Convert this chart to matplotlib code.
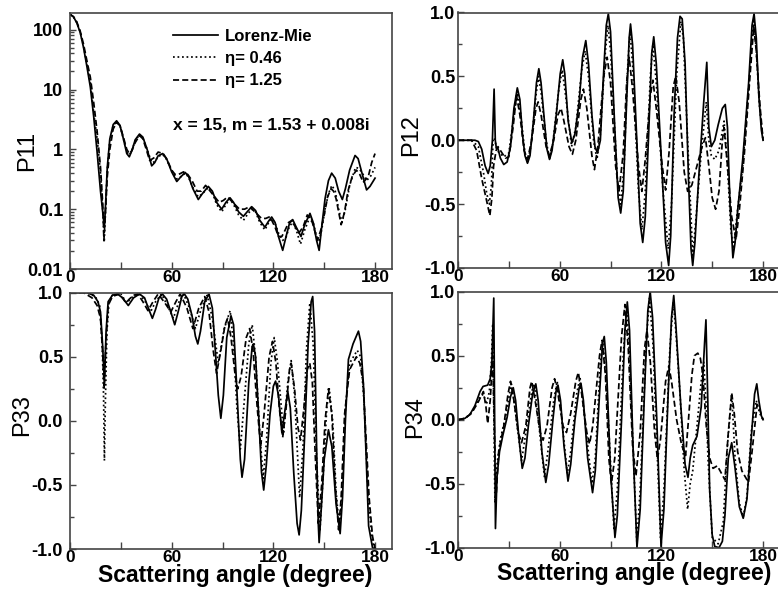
import matplotlib.pyplot as plt
from matplotlib.ticker import FixedLocator, MultipleLocator, FuncFormatter, LogLocator, NullFormatter

plt.rcParams['font.family'] = ['Liberation Sans', 'DejaVu Sans']
plt.rcParams['font.weight'] = 'bold'
plt.rcParams['axes.labelweight'] = 'bold'
plt.rcParams['axes.unicode_minus'] = False

# ---------------- P11 (log scale) ----------------
p11_lm_x = [0, 2, 4, 6, 8, 10, 12, 14, 16, 18, 19.5, 20.3, 21, 22, 23.5, 25.5, 27.5, 29.5,
            31.5, 33.5, 35, 36.5, 38.5, 41, 43, 45.5, 48.2, 50, 52, 54.7, 57, 60, 63, 65.5,
            68, 70, 72.5, 75.7, 78, 81.6, 84, 86.5, 89.5, 92, 94.4, 96.5, 99.5, 102.3, 104.5,
            107.2, 109.5, 112, 115, 117, 119, 121, 123, 125.5, 127.5, 129.5, 131.4, 133.5,
            136.3, 138.5, 141.6, 143.5, 145.5, 147, 148.5, 150.5, 152.5, 154.4, 156.5, 158.5,
            160.7, 162.5, 165, 168.2, 170, 172.5, 175, 177, 180]
p11_lm_y = [180, 165, 130, 90, 50, 24, 11, 3.5, 0.9, 0.2, 0.08, 0.05, 0.12, 0.5, 1.5, 2.6,
            3.0, 2.5, 1.5, 0.85, 0.75, 0.95, 1.45, 1.8, 1.6, 1.0, 0.53, 0.6, 0.78, 0.85, 0.7,
            0.42, 0.29, 0.35, 0.41, 0.35, 0.22, 0.145, 0.18, 0.24, 0.2, 0.13, 0.10, 0.13,
            0.155, 0.13, 0.09, 0.076, 0.09, 0.11, 0.095, 0.065, 0.05, 0.062, 0.074, 0.06,
            0.035, 0.0205, 0.035, 0.058, 0.067, 0.05, 0.035, 0.055, 0.085, 0.06, 0.03, 0.0205,
            0.05, 0.15, 0.3, 0.40, 0.33, 0.2, 0.145, 0.22, 0.45, 0.79, 0.7, 0.38, 0.21, 0.24,
            0.33]

p11_e046_x = [0, 2, 4, 6, 8, 10, 12, 14, 16, 18, 19.5, 20.2, 21, 22, 23.5, 25.5, 27.5, 29.5,
              31.5, 33.5, 35, 36.5, 38.5, 41, 43, 45.5, 48.2, 50, 52, 54.7, 57, 60, 63, 65.5,
              68, 70, 72.5, 75.7, 78, 81.6, 84, 86.5, 89.5, 92, 94.4, 96.5, 99.5, 102.3,
              104.5, 107.2, 109.5, 112, 115, 117, 119, 121, 123, 125.5, 127.5, 129.5, 131.4,
              133.5, 136, 138.5, 141.6, 143.5, 145.5, 147, 148.5, 150.5, 152.5, 154.5, 156.5,
              158.5, 160.5, 162.5, 165, 168.5, 170.5, 172.5, 175, 177.5, 180]
p11_e046_y = [180, 165, 132, 92, 53, 26, 13, 4, 1.5, 0.4, 0.08, 0.028, 0.1, 0.45, 1.4, 2.5,
              2.9, 2.5, 1.5, 0.9, 0.8, 0.95, 1.4, 1.75, 1.55, 1.0, 0.6, 0.62, 0.76, 0.82,
              0.68, 0.44, 0.32, 0.35, 0.4, 0.34, 0.23, 0.16, 0.18, 0.23, 0.19, 0.12, 0.09,
              0.12, 0.15, 0.12, 0.08, 0.065, 0.08, 0.1, 0.09, 0.06, 0.045, 0.058, 0.07, 0.058,
              0.04, 0.03, 0.034, 0.052, 0.06, 0.045, 0.026, 0.045, 0.075, 0.06, 0.035, 0.03,
              0.045, 0.1, 0.18, 0.25, 0.2, 0.1, 0.06, 0.1, 0.25, 0.5, 0.48, 0.4, 0.3, 0.36,
              0.5]

p11_e125_x = [0, 2, 4, 6, 8, 10, 12, 14, 16, 18, 19.5, 20, 21, 22, 23.5, 25.5, 27.5, 29.5,
              31.5, 33.5, 35, 36.5, 38.5, 41, 43, 45, 47, 49.5, 52, 55, 57.5, 60, 62, 64, 67,
              69.5, 72, 75, 77.5, 80, 84, 88, 90.5, 93, 96, 100, 103, 106, 110, 113, 115.5,
              118, 121, 123, 125, 127, 129, 131, 133, 135, 137.5, 140, 143, 146, 148, 150, 152,
              154, 155.5, 157, 160, 162, 164, 166.5, 169, 171, 173, 176, 178, 180]
p11_e125_y = [180, 165, 135, 95, 57, 30, 16, 6, 2, 0.5, 0.1, 0.03, 0.1, 0.35, 1.0, 2.2, 2.8,
              2.5, 1.6, 1.0, 0.85, 0.95, 1.3, 1.7, 1.5, 1.0, 0.65, 0.72, 0.9, 0.85, 0.65,
              0.45, 0.38, 0.38, 0.42, 0.38, 0.3, 0.2, 0.2, 0.25, 0.18, 0.13, 0.14, 0.16, 0.13,
              0.1, 0.1, 0.11, 0.085, 0.07, 0.07, 0.075, 0.05, 0.035, 0.035, 0.045, 0.06,
              0.065, 0.05, 0.04, 0.05, 0.08, 0.06, 0.03, 0.045, 0.08, 0.16, 0.22, 0.2, 0.15,
              0.055, 0.09, 0.2, 0.35, 0.45, 0.38, 0.28, 0.35, 0.6, 0.85]

# ---------------- P12 ----------------
p12_lm_x = [0, 10, 12, 14, 16, 17.8, 19, 20.3, 21.3, 22, 22.6, 23.5, 25, 27, 29, 31, 33, 35,
            36.5, 38, 39.5, 41, 42.5, 44.5, 46.3, 47.7, 49, 51, 52.5, 54, 55.5, 58, 60.3,
            61.8, 63, 65, 67.2, 69, 71.5, 73.5, 75.4, 77, 79, 80.8, 82.3, 84, 86, 87.5, 88.7,
            90, 92.5, 94.5, 96, 97.5, 99.5, 101, 101.8, 103, 105.5, 107.5, 109, 110.5, 112.5,
            114.3, 115.5, 117, 120, 122.5, 124.3, 125.5, 127.5, 129.5, 131, 132.3, 134, 136,
            137.5, 138.5, 139.8, 142, 145, 146.8, 148, 149.5, 151.5, 153.5, 156, 157.7, 159,
            160.5, 162.2, 163.5, 165, 168, 171.5, 173.5, 174.7, 176, 177.5, 179, 180]
p12_lm_y = [0, 0, -0.01, -0.07, -0.2, -0.26, -0.2, 0.0, 0.40, 0.0, -0.06, -0.06, -0.14,
            -0.19, -0.17, -0.05, 0.25, 0.41, 0.32, 0.05, -0.12, -0.18, -0.12, 0.15, 0.45,
            0.56, 0.45, 0.15, -0.07, -0.15, -0.08, 0.2, 0.52, 0.63, 0.52, 0.15, -0.02, 0.05,
            0.3, 0.65, 0.78, 0.6, 0.2, -0.05, -0.10, 0.0, 0.55, 0.9, 0.99, 0.85, 0.1, -0.45,
            -0.57, -0.4, 0.3, 0.8, 0.91, 0.75, 0.0, -0.65, -0.80, -0.6, 0.05, 0.68, 0.81,
            0.6, -0.15, -0.8, -0.98, -0.75, 0.2, 0.8, 0.97, 0.95, 0.6, -0.3, -0.85, -0.98,
            -0.8, -0.3, 0.3, 0.61, 0.1, -0.05, 0.0, 0.12, 0.25, 0.28, 0.1, -0.5, -0.92, -0.8,
            -0.55, -0.15, 0.45, 0.9, 0.99, 0.8, 0.35, 0.08, 0.0]

p12_e046_x = [0, 8, 12, 15, 17, 18.5, 19.7, 20.7, 21.5, 23, 27, 30, 33, 35, 37, 39.5, 41, 43,
              46, 47.5, 49, 52, 54, 56, 59.5, 61.5, 63.5, 67, 69.5, 73, 75, 77, 80, 82, 84,
              87, 88.5, 90, 94, 96, 98, 100, 101.5, 103, 106.5, 108.5, 110.5, 113.5, 115, 117,
              121, 124, 126, 129, 131.5, 133, 135.5, 138.5, 140.5, 143.5, 146.5, 148, 149.5,
              151.5, 154, 157, 159, 161, 162.5, 164.5, 168, 172, 174.5, 176, 178, 180]
p12_e046_y = [0, 0, -0.05, -0.25, -0.42, -0.5, -0.35, 0.0, 0.02, -0.08, -0.13, -0.1, 0.2,
              0.37, 0.2, -0.1, -0.17, -0.05, 0.35, 0.5, 0.38, 0.0, -0.15, -0.02, 0.4, 0.55,
              0.35, -0.05, 0.1, 0.55, 0.7, 0.5, 0.0, -0.15, 0.05, 0.7, 0.9, 0.7, -0.3, -0.5,
              -0.2, 0.55, 0.85, 0.6, -0.4, -0.7, -0.4, 0.5, 0.75, 0.45, -0.4, -0.85, -0.5, 0.5,
              0.93, 0.8, 0.0, -0.9, -0.6, -0.1, 0.3, 0.0, -0.12, -0.15, -0.08, 0.15, -0.2,
              -0.7, -0.85, -0.6, -0.2, 0.5, 0.95, 0.7, 0.25, 0.0]

p12_e125_x = [0, 8, 11, 14, 16.5, 18.8, 20, 21, 22.5, 23.6, 26, 28, 30, 32.5, 34.5, 36.5, 39,
              41, 43.5, 46, 47.3, 49, 52, 54, 56.5, 59, 60.8, 62.5, 65.5, 67.5, 69.5, 72.5,
              74, 76, 79, 80.5, 82.5, 86, 88, 90, 93, 95, 97.5, 99.5, 101, 103, 106.5, 108.5,
              110.5, 113.5, 115, 117, 120.5, 122.5, 124.5, 127, 128.5, 130.5, 133.5, 135.5,
              138, 141, 144, 146, 148, 150, 152, 154, 156, 157, 159, 161.5, 164, 166, 169, 172,
              174.5, 176, 178, 180]
p12_e125_y = [0, 0, -0.08, -0.3, -0.45, -0.59, -0.45, -0.2, -0.08, -0.05, -0.1, -0.14, -0.13,
              0.1, 0.35, 0.2, -0.08, -0.15, 0.0, 0.25, 0.3, 0.2, -0.05, -0.12, 0.0, 0.2, 0.25,
              0.15, -0.05, -0.11, 0.0, 0.32, 0.4, 0.25, -0.12, -0.23, -0.05, 0.5, 0.65, 0.45,
              -0.2, -0.4, -0.1, 0.45, 0.65, 0.4, -0.2, -0.4, -0.15, 0.35, 0.47, 0.25, -0.2,
              -0.39, -0.1, 0.42, 0.5, 0.3, -0.25, -0.4, -0.35, -0.2, -0.05, 0.02, -0.2, -0.45,
              -0.54, -0.4, 0.0, 0.1, -0.2, -0.6, -0.78, -0.55, -0.1, 0.45, 0.89, 0.7, 0.3, 0.0]

# ---------------- P33 ----------------
p33_lm_x = [0, 10, 14, 16.5, 18, 19.2, 20.3, 21.3, 22.5, 25, 28, 31, 34.4, 37.5, 41, 44, 46.5,
            48.6, 50.5, 52.5, 54.5, 57, 59.5, 61.8, 63.8, 66, 67.5, 69.5, 72, 74, 75.4, 77,
            79.5, 82, 84, 86, 87.5, 89, 90.5, 92.5, 95, 96.5, 99, 100.5, 101.5, 103, 105.5,
            107.5, 108.2, 109.5, 111.5, 113, 114.3, 115.8, 118, 120, 121.3, 123, 125, 126.5,
            128.5, 130, 132, 134, 135.2, 136.5, 138.5, 140.5, 142.3, 143.2, 144.3, 145.5,
            146.5, 147, 148.2, 150, 152.5, 154.5, 157, 159.4, 160.8, 162.5, 164.3, 167, 170.2,
            171.5, 173.2, 174.8, 176.2, 178.5, 180]
p33_lm_y = [1.0, 1.0, 0.98, 0.93, 0.85, 0.6, 0.3, 0.7, 0.93, 0.98, 0.99, 0.96, 0.90, 0.96,
            0.99, 0.96, 0.87, 0.80, 0.87, 0.96, 0.99, 0.95, 0.85, 0.75, 0.85, 0.97, 0.99,
            0.95, 0.82, 0.66, 0.60, 0.7, 0.93, 0.99, 0.88, 0.5, 0.2, 0.02, 0.2, 0.65, 0.82,
            0.75, 0.1, -0.3, -0.44, -0.3, 0.3, 0.58, 0.6, 0.5, 0.0, -0.4, -0.54, -0.35, 0.05,
            0.27, 0.31, 0.2, -0.09, 0.05, 0.23, 0.1, -0.4, -0.8, -0.89, -0.7, -0.1, 0.6, 0.93,
            0.97, 0.7, -0.2, -0.8, -0.95, -0.7, -0.3, -0.07, -0.2, -0.65, -0.88, -0.6, 0.0,
            0.48, 0.6, 0.70, 0.62, 0.27, -0.3, -0.82, -0.99, -1.0]

p33_e046_x = [0, 10, 15, 17.5, 19, 19.8, 20.3, 20.8, 21.8, 23, 25, 30, 33.5, 37, 41, 44.5,
              47.5, 50.5, 54, 57.5, 61, 64, 67, 70.5, 74, 77.5, 81, 84, 87.5, 91, 94.5, 96.5,
              98.5, 100.5, 102.5, 105.5, 107.5, 109.5, 112, 114, 116, 118.5, 120.5, 122.5,
              126, 128.5, 130.5, 132.5, 135.5, 137.5, 139.5, 141.5, 143.5, 145.5, 147.5, 149.5,
              151.5, 153, 155, 157, 159, 160.5, 162.5, 165, 169.5, 171.5, 173.5, 176, 178.5,
              180]
p33_e046_y = [1.0, 1.0, 0.97, 0.9, 0.6, 0.2, -0.31, 0.1, 0.7, 0.92, 0.98, 0.99, 0.92, 0.97,
              0.99, 0.93, 0.85, 0.93, 0.99, 0.9, 0.8, 0.92, 0.99, 0.88, 0.72, 0.88, 0.98, 0.8,
              0.45, 0.72, 0.86, 0.6, 0.1, -0.22, 0.1, 0.6, 0.75, 0.5, -0.1, -0.45, -0.15, 0.45,
              0.65, 0.45, -0.1, 0.3, 0.47, 0.2, -0.6, -0.2, 0.55, 0.92, 0.6, -0.3, -0.85, -0.4,
              0.1, 0.25, 0.0, -0.55, -0.85, -0.55, 0.1, 0.45, 0.55, 0.5, 0.15, -0.6, -0.95,
              -1.0]

p33_e125_x = [0, 8, 13, 16, 18, 19.2, 20.2, 21, 22.5, 25, 29, 31.5, 33, 35, 37.5, 40, 43, 46,
              49, 52, 56, 59.5, 62.5, 65, 69, 72.5, 76, 79.5, 82, 84.5, 86.5, 89, 91.5, 93, 95,
              97.5, 99, 101, 104, 106, 108, 110.5, 112.5, 114.5, 117.5, 119.5, 121.5, 123.5,
              125.5, 127.5, 129.5, 130.5, 132.5, 134.5, 136, 138, 140, 141.5, 143, 144.5, 146.5,
              148.5, 150.5, 152.5, 154.5, 156.5, 158.5, 160, 162, 165, 169, 171, 173, 176.5,
              178.5, 180]
p33_e125_y = [1.0, 1.0, 0.96, 0.9, 0.8, 0.55, 0.25, 0.55, 0.9, 0.97, 0.99, 0.95, 0.92, 0.95,
              0.98, 0.99, 0.93, 0.86, 0.93, 0.99, 0.92, 0.85, 0.93, 0.99, 0.88, 0.72, 0.88,
              0.97, 0.85, 0.55, 0.37, 0.55, 0.75, 0.8, 0.65, 0.35, 0.25, 0.35, 0.65, 0.72,
              0.55, 0.1, -0.2, 0.05, 0.5, 0.62, 0.45, 0.1, -0.13, 0.1, 0.4, 0.45, 0.25, -0.05,
              -0.15, 0.1, 0.4, 0.45, 0.3, -0.2, -0.8, -0.5, 0.0, 0.25, 0.05, -0.5, -0.85,
              -0.6, 0.05, 0.4, 0.5, 0.45, 0.3, -0.6, -0.9, -1.0]

# ---------------- P34 ----------------
p34_lm_x = [0, 4, 7, 10, 13, 14.8, 17.5, 19, 20, 21.1, 22.1, 23, 24.5, 26.5, 29, 31, 32.6, 34,
            36, 37.9, 39.5, 41.5, 44, 45.9, 47.3, 49.5, 51.8, 53.5, 56, 57.8, 59, 60.5, 62.5,
            64.9, 66.5, 69, 71.5, 72.6, 74, 76.5, 79.4, 81, 83.5, 85.3, 86.3, 87.5, 90, 92.6,
            94, 96.5, 98.5, 99.9, 101.2, 103.5, 105.6, 107.5, 110, 112, 113.4, 114.8, 117.3,
            119.8, 121.5, 124, 126, 127.3, 128.5, 131.5, 134, 135.7, 137, 138.5, 141, 143.5,
            145.5, 146.3, 147.3, 148.5, 150, 151.5, 154, 156, 157.5, 159.5, 161.5, 163.5, 166,
            168.3, 170.5, 173, 175, 176.3, 177.5, 179, 180]
p34_lm_y = [0, 0.01, 0.04, 0.11, 0.22, 0.26, 0.27, 0.32, 0.45, 0.95, -0.85, -0.45, -0.25,
            -0.12, 0.02, 0.18, 0.25, 0.15, -0.15, -0.38, -0.3, -0.05, 0.2, 0.28, 0.15, -0.25,
            -0.49, -0.35, 0.0, 0.22, 0.27, 0.15, -0.2, -0.48, -0.35, 0.0, 0.25, 0.28, 0.15,
            -0.3, -0.57, -0.4, 0.2, 0.6, 0.65, 0.45, -0.4, -0.92, -0.75, 0.0, 0.7, 0.92, 0.7,
            -0.3, -1.0, -0.7, 0.2, 0.85, 1.0, 0.8, 0.0, -0.99, -0.7, 0.2, 0.8, 0.97, 0.75,
            0.1, -0.35, -0.45, -0.3, -0.2, -0.13, 0.1, 0.6, 0.78, 0.2, -0.55, -0.9, -0.99,
            -1.0, -0.95, -0.75, -0.3, -0.18, -0.38, -0.68, -0.77, -0.62, -0.15, 0.2, 0.28,
            0.15, 0.03, 0.0]

p34_e046_x = [0, 4, 7, 10, 13, 15, 16.8, 18.5, 19.7, 20.5, 21.8, 23, 25, 28, 31.5, 33.5, 37.5,
              39.5, 43.5, 45, 47, 51, 53, 56.5, 58.5, 60.5, 64.5, 66.5, 70, 72, 74, 79, 81, 84,
              85.5, 87.5, 92, 94, 97.5, 99.5, 101, 105.5, 107.5, 111, 113, 115, 119.5, 121.5,
              125, 127, 128.5, 131, 133.5, 135.5, 137, 138.5, 141, 143.5, 145, 146.5, 147.5,
              150, 153.5, 156.5, 159, 161.5, 163.5, 166, 168.3, 170.5, 173, 176, 178, 180]
p34_e046_y = [0, 0.01, 0.04, 0.1, 0.18, 0.2, 0.12, 0.22, 0.45, 0.75, -0.65, -0.35, -0.15,
              0.02, 0.28, 0.1, -0.32, -0.15, 0.22, 0.28, 0.05, -0.45, -0.25, 0.15, 0.3, 0.1,
              -0.42, -0.25, 0.2, 0.33, 0.1, -0.5, -0.3, 0.45, 0.6, 0.3, -0.85, -0.55, 0.5,
              0.88, 0.55, -0.95, -0.55, 0.6, 0.95, 0.6, -0.92, -0.55, 0.55, 0.92, 0.7, 0.2,
              -0.4, -0.70, -0.5, -0.4, -0.05, 0.3, 0.45, 0.1, -0.3, -0.92, -0.97, -0.8, -0.2,
              0.2, -0.3, -0.65, -0.76, -0.6, -0.1, 0.15, 0.05, 0.0]

p34_e125_x = [0, 4, 8, 12, 15, 16.5, 17.5, 19, 20.5, 21.5, 22.5, 24, 27, 29.5, 31, 33, 35.5,
              37.5, 40, 42.5, 43.5, 45.5, 48.5, 50.2, 52.5, 55.5, 57, 59, 62, 64, 66.5, 69.5,
              71, 73, 76, 77.6, 79.5, 83.5, 85, 87, 89, 90.5, 92.5, 96.5, 98.5, 100.5, 103,
              105, 107.5, 110, 111.5, 113.5, 116, 117.7, 119.5, 122.5, 124.4, 126, 129, 132,
              134.3, 136, 138, 139.5, 141.5, 143, 144.5, 146.5, 148.5, 150.5, 153, 155.5,
              157.5, 159.5, 161.5, 163, 165, 167.5, 171.4, 173.5, 176.5, 178, 180]
p34_e125_y = [0, 0.01, 0.05, 0.14, 0.22, 0.1, -0.03, 0.15, 0.5, -0.1, -0.6, -0.25, -0.05, 0.2,
              0.3, 0.15, -0.1, -0.18, -0.05, 0.25, 0.3, 0.15, -0.1, -0.16, -0.05, 0.25, 0.32,
              0.2, -0.05, -0.1, 0.05, 0.3, 0.37, 0.2, -0.1, -0.19, -0.05, 0.5, 0.62, 0.35,
              -0.3, -0.5, -0.3, 0.65, 0.9, 0.55, -0.2, -0.44, -0.1, 0.55, 0.7, 0.45, -0.1,
              -0.31, -0.15, 0.3, 0.42, 0.3, 0.0, -0.2, -0.28, 0.0, 0.35, 0.5, 0.52, 0.48, 0.35,
              -0.05, -0.3, -0.38, -0.36, -0.42, -0.47, -0.1, 0.21, 0.05, -0.25, -0.4, -0.49,
              -0.25, 0.12, 0.08, 0.0]

labels = ['Lorenz-Mie', '\u03b7= 0.46', '\u03b7= 1.25']
styles = ['-', (0, (1, 1.6)), (0, (3.5, 1.8))]

panels = [
    ('P11', (p11_lm_x, p11_lm_y), (p11_e046_x, p11_e046_y), (p11_e125_x, p11_e125_y)),
    ('P12', (p12_lm_x, p12_lm_y), (p12_e046_x, p12_e046_y), (p12_e125_x, p12_e125_y)),
    ('P33', (p33_lm_x, p33_lm_y), (p33_e046_x, p33_e046_y), (p33_e125_x, p33_e125_y)),
    ('P34', (p34_lm_x, p34_lm_y), (p34_e046_x, p34_e046_y), (p34_e125_x, p34_e125_y)),
]

W, H = 778, 601
fig = plt.figure(figsize=(W / 100, H / 100), dpi=100)


def add_panel(left, top, bottom, width=322):
    return fig.add_axes([left / W, 1 - bottom / H, width / W, (bottom - top) / H])


axes = [add_panel(70, 13, 269), add_panel(458, 12.5, 268),
        add_panel(70, 292.7, 549), add_panel(458, 291.7, 547.7)]
ylabel_pos = [(-0.098, 0.46), (-0.112, 0.52), (-0.115, 0.523), (-0.1, 0.51)]
ytick_pad = [5, 2, 5, 2]

for ax, (name, *curves), lpos, ypad in zip(axes, panels, ylabel_pos, ytick_pad):
    for (x, y), ls, lab in zip(curves, styles, labels):
        ax.plot(x, y, color='black', lw=1.25, linestyle=ls, label=lab)

    ax.set_xlim(0, 190)
    ax.xaxis.set_major_locator(FixedLocator([0, 60, 120, 180]))
    ax.xaxis.set_minor_locator(FixedLocator([30, 90, 150]))
    if name == 'P11':
        ax.set_yscale('log')
        ax.set_ylim(0.01, 190)
        ax.yaxis.set_major_locator(LogLocator(base=10, numticks=10))
        ax.yaxis.set_minor_locator(LogLocator(base=10, subs=range(2, 10), numticks=20))
        ax.yaxis.set_minor_formatter(NullFormatter())
        ax.yaxis.set_major_formatter(FuncFormatter(lambda v, p: '%g' % v))
    else:
        ax.set_ylim(-1.0, 1.0)
        ax.yaxis.set_major_locator(MultipleLocator(0.5))
        ax.yaxis.set_minor_locator(MultipleLocator(0.25))
        ax.yaxis.set_major_formatter(FuncFormatter(lambda v, p: '%.1f' % v))

    ax.tick_params(which='both', direction='in', top=False, right=False,
                   labelsize=13, width=1.0, color='#444444')
    ax.tick_params(axis='x', which='major', length=5, pad=1, labelsize=12.5)
    ax.tick_params(axis='x', which='minor', length=5)
    ax.tick_params(axis='y', which='major', length=4, pad=ypad)
    ax.tick_params(axis='y', which='minor', length=3)
    for sp in ax.spines.values():
        sp.set_color('#444444')
        sp.set_linewidth(1.2)

    ax.set_ylabel(name, fontsize=17, fontweight='normal')
    ax.yaxis.set_label_coords(*lpos)

axes[0].legend(loc='upper left', bbox_to_anchor=(0.32, 0.937), frameon=False,
               fontsize=12, handlelength=2.7, handletextpad=0.4, labelspacing=0.43,
               borderpad=0, borderaxespad=0)
axes[0].text(0.32, 0.5625, 'x = 15, m = 1.53 + 0.008i', transform=axes[0].transAxes,
             fontsize=12.5, ha='left', va='center')

for ax, xc in [(axes[2], 0.512), (axes[3], 0.547)]:
    ax.set_xlabel('Scattering angle (degree)', fontsize=16.5, fontweight='bold')
    ax.xaxis.set_label_coords(xc, -0.057)

fig.savefig('out.png', dpi=100)
